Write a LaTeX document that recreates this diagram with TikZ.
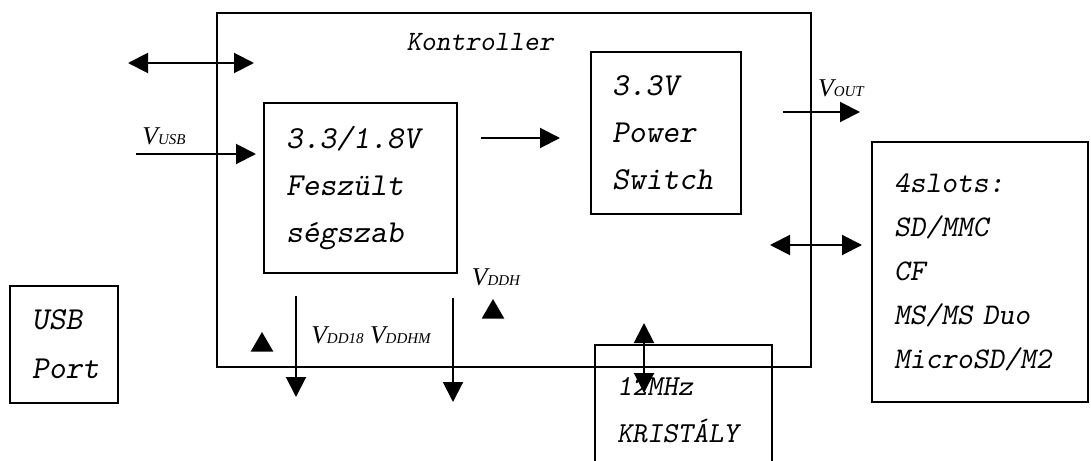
\documentclass[tikz,border=0pt]{standalone}
\usepackage{fontspec}
\setmainfont{Liberation Serif}
\usetikzlibrary{arrows.meta,shapes.geometric}

\tikzset{
    blokk/.style={draw, line width=1pt, align=left, inner sep=0pt,
        font=\ttfamily\slshape\fontsize{16}{23.5}\selectfont},
    nyil/.style={line width=1pt, -{Triangle[length=10pt,width=10pt]}},
    ketnyil/.style={line width=1pt, {Triangle[length=10pt,width=10pt]}-{Triangle[length=10pt,width=10pt]}},
    fesz/.style={inner sep=0pt, font=\itshape\fontsize{12.8}{14}\selectfont},
    jelzo/.style={regular polygon, regular polygon sides=3, fill, inner sep=0pt, minimum size=13pt},
}
\newcommand{\Vjel}[1]{V{\fontsize{7.5}{8}\selectfont #1}}

\begin{document}
\begin{tikzpicture}[x=0.5pt,y=-0.5pt]
    \useasboundingbox (0,0) rectangle (1091,460);
    \clip (0,0) rectangle (1091,460);

    % Blokkok
    \node[draw, line width=1pt, minimum width=297pt, minimum height=177pt] (kontroller) at (514,190) {};
    \node[inner sep=0pt, font=\ttfamily\slshape\fontsize{14}{16}\selectfont] (kontrollercim) at (480,42) {Kontroller};
    \node[blokk, minimum width=96.5pt, text width=74.5pt, minimum height=85pt] (reg) at (360.5,188) {3.3/1.8V\\Feszült\\ségszab};
    \node[blokk, minimum width=75pt, text width=54pt, minimum height=81pt] (pw) at (666,133) {3.3V\\Power\\Switch};
    \node[blokk, minimum width=108pt, text width=86pt, minimum height=130pt,
        font=\ttfamily\slshape\fontsize{15}{22}\selectfont] (slots) at (980,272) {4slots:\\SD/MMC\\CF\\MS/MS Duo\\MicroSD/M2};
    \node[blokk, minimum width=54pt, text width=32pt, minimum height=58.5pt,
        font=\ttfamily\slshape\fontsize{16}{24.5}\selectfont] (usb) at (64,344.5) {USB\\Port};
    \node[blokk, minimum width=88.5pt, text width=66.5pt, minimum height=65pt,
        font=\ttfamily\slshape\fontsize{14.5}{23.5}\selectfont] (kristaly) at (683.5,410) {12MHz\\KRISTÁLY};

    % Nyilak vegpontjai
    \coordinate (busbal) at (128,63);
    \coordinate (busjobb) at (254,63);
    \coordinate (usbbe) at (136,154);
    \coordinate (regki) at (481,138);
    \coordinate (pwbe) at (560,138);
    \coordinate (pwki) at (783,112);
    \coordinate (outki) at (860,112);
    \coordinate (sdbal) at (770,245);
    \coordinate (sdjobb) at (862,245);
    \coordinate (dda) at (296,296);
    \coordinate (ddavege) at (296,397);
    \coordinate (ddb) at (453,298);
    \coordinate (ddbvege) at (453,402);
    \coordinate (xfent) at (644,323);
    \coordinate (xlent) at (644,393);

    % Nyilak
    \draw[ketnyil] (busbal) -- (busjobb);
    \draw[nyil, shorten >=3.5pt] (usbbe) -- (usbbe -| reg.west);
    \draw[nyil] (regki) -- (pwbe);
    \draw[nyil] (pwki) -- (outki);
    \draw[ketnyil] (sdbal) -- (sdjobb);
    \draw[nyil] (dda) -- (ddavege);
    \draw[nyil] (ddb) -- (ddbvege);
    \draw[ketnyil] (xfent) -- (xlent);

    % Jelzo haromszogek
    \node[jelzo] (jel1) at (262,345) {};
    \node[jelzo] (jel2) at (493,312) {};

    % Feszultsegek
    \node[fesz] (vusb) at (164,136) {\Vjel{USB}};
    \node[fesz] (vout) at (841,88) {\Vjel{OUT}};
    \node[fesz] (vddh) at (496,277) {\Vjel{DDH}};
    \node[fesz] (vdd) at (371,335) {\Vjel{DD18} \Vjel{DDHM}};
\end{tikzpicture}
\end{document}
